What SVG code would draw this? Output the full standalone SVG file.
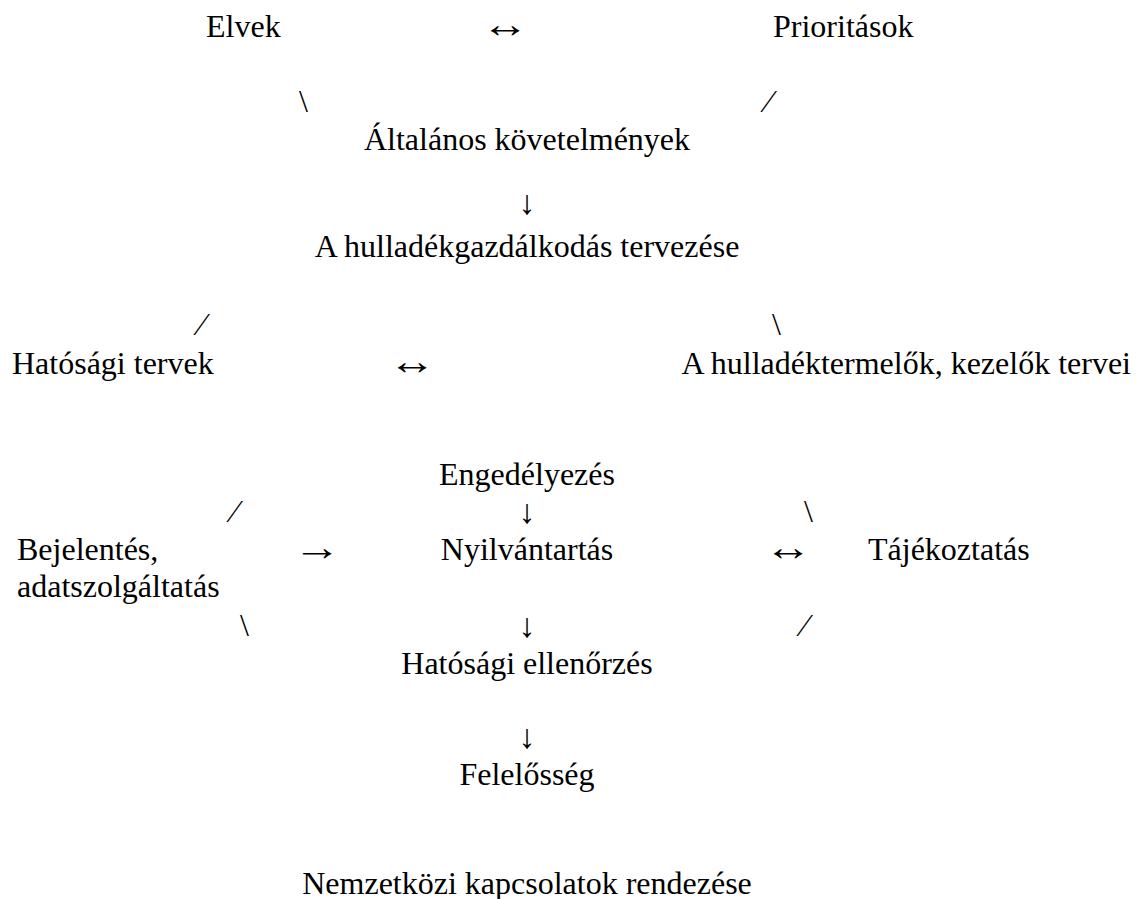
<svg xmlns="http://www.w3.org/2000/svg" width="1141" height="899" viewBox="0 0 1141 899">
<style>
text{font-family:"Liberation Serif","Times New Roman",Times,serif;font-size:32px;fill:#000}
.c{text-anchor:middle}
.dn{font-size:34px;text-anchor:middle}
.h{text-anchor:middle}
</style>
<rect width="1141" height="899" fill="#fff"/>
<g id="connectors">
<text class="h" transform="translate(505,37) scale(1.5,1.2)">↔</text>
<text x="299" y="112">\</text>
<text x="766" y="112">⁄</text>
<text class="dn" x="527" y="214">↓</text>
<text x="199" y="335">⁄</text>
<text x="772" y="335">\</text>
<text class="h" transform="translate(412,374) scale(1.5,1.2)">↔</text>
<text x="232" y="522">⁄</text>
<text class="dn" x="527" y="523">↓</text>
<text x="804" y="522">\</text>
<text class="h" transform="translate(317,560) scale(1.5,1.2)">→</text>
<text class="h" transform="translate(788,560) scale(1.5,1.2)">↔</text>
<text x="240" y="636">\</text>
<text class="dn" x="527" y="637">↓</text>
<text x="802" y="636">⁄</text>
<text class="dn" x="527" y="748">↓</text>
</g>
<g id="elvek"><text x="206" y="37">Elvek</text></g>
<g id="prioritasok"><text x="773" y="37">Prioritások</text></g>
<g id="altalanos"><text class="c" x="527" y="150">Általános követelmények</text></g>
<g id="tervezes"><text class="c" x="527" y="257">A hulladékgazdálkodás tervezése</text></g>
<g id="hatosagi-tervek"><text x="12" y="374">Hatósági tervek</text></g>
<g id="termelok-tervei"><text x="1131" y="374" text-anchor="end">A hulladéktermelők, kezelők tervei</text></g>
<g id="engedelyezes"><text class="c" x="527" y="485">Engedélyezés</text></g>
<g id="bejelentes"><text x="17" y="560">Bejelentés,</text><text x="17" y="597">adatszolgáltatás</text></g>
<g id="nyilvantartas"><text class="c" x="527" y="560">Nyilvántartás</text></g>
<g id="tajekoztatas"><text x="868" y="560">Tájékoztatás</text></g>
<g id="ellenorzes"><text class="c" x="527" y="674">Hatósági ellenőrzés</text></g>
<g id="felelosseg"><text class="c" x="527" y="785">Felelősség</text></g>
<g id="nemzetkozi"><text class="c" x="527" y="894">Nemzetközi kapcsolatok rendezése</text></g>
</svg>
